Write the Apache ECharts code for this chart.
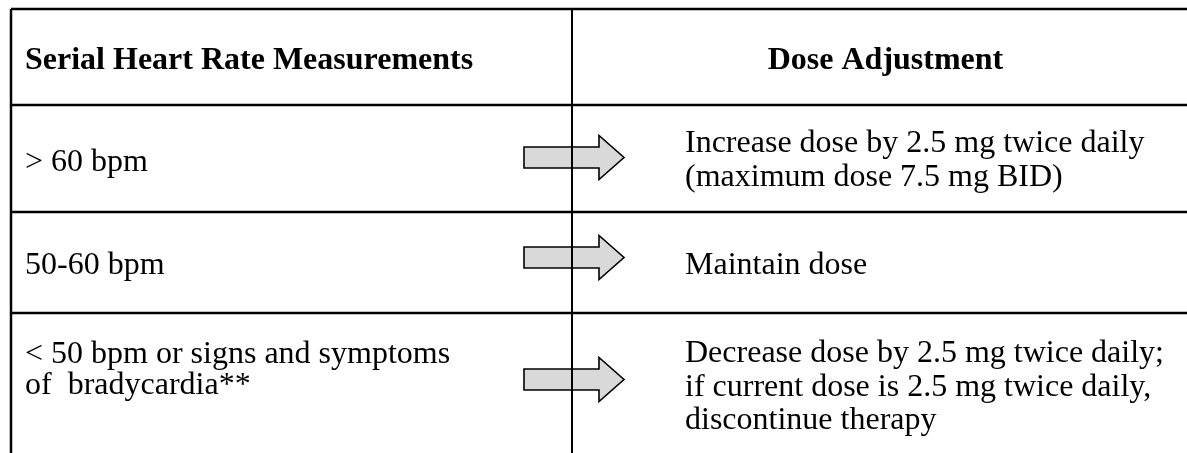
<!DOCTYPE html>
<html>
<head>
<meta charset="utf-8">
<script src="https://cdn.jsdelivr.net/npm/echarts@6/dist/echarts.min.js"></script>
<style>
html,body{margin:0;padding:0;background:#fff;}
#chart{width:1187px;height:453px;}
</style>
</head>
<body>
<div id="chart"></div>
<script>
// ---- data ----
const headers = ['Serial Heart Rate Measurements', 'Dose Adjustment'];
const heartRates = [
  '> 60 bpm',
  '50-60 bpm',
  '< 50 bpm or signs and symptoms\nof  bradycardia**'
];
const doseAdjustments = [
  'Increase dose by 2.5 mg twice daily\n(maximum dose 7.5 mg BID)',
  'Maintain dose',
  'Decrease dose by 2.5 mg twice daily;\nif current dose is 2.5 mg twice daily,\ndiscontinue therapy'
];

// ---- layout (page pixels, mapped through hidden value axes) ----
const layout = {
  left: 11, divider: 572, right: 1200,
  rowEdges: [9, 105, 212, 313, 480],
  leftTextX: 25, rightTextX: 685, headerRightCenterX: 885.5,
  headerY: 61,
  leftY: [163, 266, 370],
  rightY: [160.5, 266, 387.5],
  arrowY: [157.5, 257.5, 379.5],
  arrow: { x0: 524, x1: 599, x2: 624, body: 10.5, head: 22 }
};
const font = { family: '"Liberation Serif", "Times New Roman", serif', size: 32, scaleX: 1 };

const rows = [0, 1, 2, 3];

function renderItem(params, api) {
  const i = api.value(0);
  const P = (x, y) => api.coord([x, y]);
  const children = [];
  const top = layout.rowEdges[i], bot = layout.rowEdges[i + 1];
  const lineStyle = { stroke: '#000', lineWidth: 2.5 };
  const a = P(layout.left, top), b = P(layout.right, top);
  children.push({ type: 'line', shape: { x1: a[0], y1: a[1], x2: b[0], y2: b[1] }, style: lineStyle, z2: 5 });
  const c = P(layout.left, top), d = P(layout.left, bot);
  children.push({ type: 'line', shape: { x1: c[0], y1: c[1], x2: d[0], y2: d[1] }, style: lineStyle, z2: 5 });
  const e = P(layout.divider, top), f = P(layout.divider, bot);
  children.push({ type: 'line', shape: { x1: e[0], y1: e[1], x2: f[0], y2: f[1] }, style: { stroke: '#000', lineWidth: 2 }, z2: 6 });

  function txt(str, x, y, bold, align, lh) {
    const p = P(x, y);
    return {
      type: 'text', x: p[0], y: p[1], scaleX: font.scaleX, z2: 10,
      style: {
        text: str, x: 0, y: 0, fill: '#000',
        fontFamily: font.family, fontSize: font.size,
        fontWeight: bold ? 'bold' : 'normal',
        align: align, verticalAlign: 'middle', lineHeight: lh || font.size
      }
    };
  }

  if (i === 0) {
    children.push(txt(headers[0], layout.leftTextX, layout.headerY, true, 'left'));
    children.push(txt(headers[1], layout.headerRightCenterX, layout.headerY, true, 'center'));
  } else {
    const r = i - 1;
    children.push(txt(heartRates[r], layout.leftTextX, layout.leftY[r], false, 'left', 31));
    children.push(txt(doseAdjustments[r], layout.rightTextX, layout.rightY[r], false, 'left', 33.5));
    const ar = layout.arrow, cy = layout.arrowY[r];
    const pts = [
      [ar.x0, cy - ar.body], [ar.x1, cy - ar.body], [ar.x1, cy - ar.head], [ar.x2, cy],
      [ar.x1, cy + ar.head], [ar.x1, cy + ar.body], [ar.x0, cy + ar.body]
    ].map(q => P(q[0], q[1]));
    children.push({ type: 'polygon', shape: { points: pts }, style: { fill: '#d9d9d9', stroke: '#000', lineWidth: 1.6 }, z2: 3 });
  }
  return { type: 'group', children: children };
}

const chart = echarts.init(document.getElementById('chart'), null, { renderer: 'canvas' });
chart.setOption({
  animation: false,
  backgroundColor: '#fff',
  grid: { left: 0, right: 0, top: 0, bottom: 0 },
  xAxis: { type: 'value', min: 0, max: 1187, show: false },
  yAxis: { type: 'value', min: 0, max: 453, inverse: true, show: false },
  series: [{
    type: 'custom',
    renderItem: renderItem,
    data: rows.map(r => [r]),
    clip: false,
    silent: true
  }]
});
</script>
</body>
</html>
